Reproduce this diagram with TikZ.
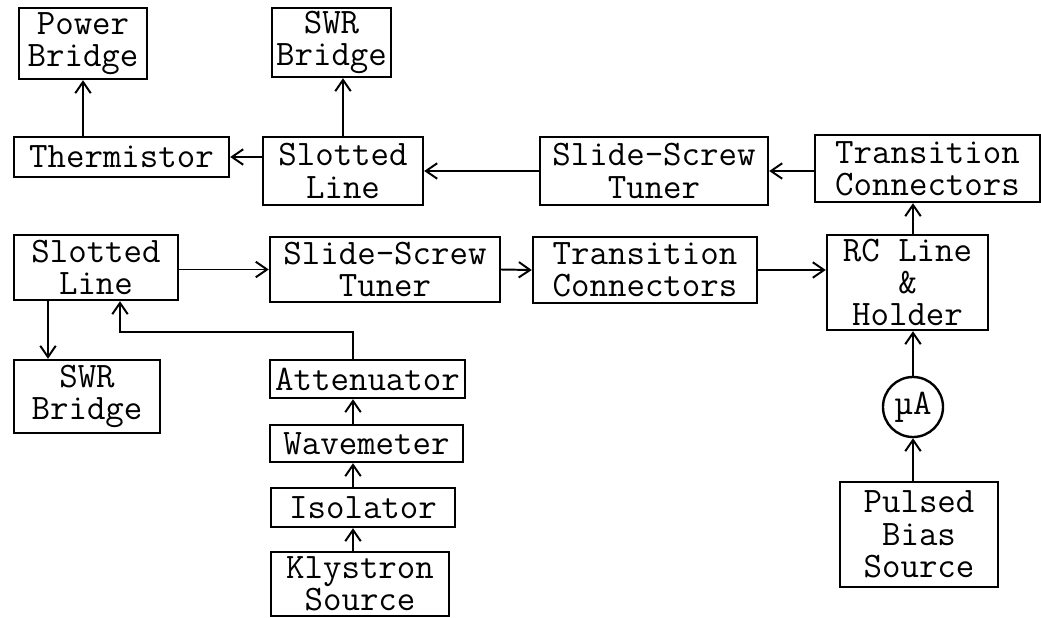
\documentclass[tikz,border=0pt]{standalone}
\usepackage{fontspec}
\usetikzlibrary{arrows.meta}

\begin{document}
\begin{tikzpicture}[x=0.025cm,y=-0.025cm,
  blk/.style={draw,line width=1.7pt,align=center,inner sep=0pt,
    font=\ttfamily\fontsize{25.5}{23}\selectfont},
  link/.style={line width=1.4pt,-{Straight Barb[length=8pt,width=11pt]}}]
  \useasboundingbox (0,0) rectangle (1041,618);
  \clip (0,0) rectangle (1041,618);
  \node[blk,minimum width=3.2cm,minimum height=1.775cm] (pwr) at (83,43.5) {Power\\Bridge};
  \node[blk,minimum width=2.975cm,minimum height=1.725cm] (swrA) at (331.5,42.5) {SWR\\Bridge};
  \node[blk,minimum width=5.375cm,minimum height=1.0cm] (therm) at (121.5,157) {Thermistor};
  \node[blk,minimum width=4.0cm,minimum height=1.7cm] (slotA) at (343,171) {Slotted\\Line};
  \node[blk,minimum width=5.7cm,minimum height=1.7cm] (tunerA) at (654,171) {Slide-Screw\\Tuner};
  \node[blk,minimum width=5.625cm,minimum height=1.675cm] (transA) at (927.5,168.5) {Transition\\Connectors};
  \node[blk,minimum width=4.1cm,minimum height=1.625cm] (slotB) at (96,267.5) {Slotted\\Line};
  \node[blk,minimum width=5.75cm,minimum height=1.625cm] (tunerB) at (385,269.5) {Slide-Screw\\Tuner};
  \node[blk,minimum width=5.6cm,minimum height=1.65cm] (transB) at (645,270) {Transition\\Connectors};
  \node[blk,minimum width=4.025cm,minimum height=2.375cm] (rc) at (907.5,282.5) {RC Line\\\&\\Holder};
  \node[blk,circle,minimum size=1.5cm] (mu) at (913,407) {µA};
  \node[blk,minimum width=3.95cm,minimum height=2.625cm] (pulse) at (919,534.5) {Pulsed\\Bias\\Source};
  \node[blk,minimum width=3.65cm,minimum height=1.825cm] (swrB) at (87,396.5) {SWR\\Bridge};
  \node[blk,minimum width=4.875cm,minimum height=0.95cm] (atten) at (367.5,379) {Attenuator};
  \node[blk,minimum width=4.825cm,minimum height=0.925cm] (wave) at (366.5,443.5) {Wavemeter};
  \node[blk,minimum width=4.6cm,minimum height=0.975cm] (iso) at (363,507.5) {Isolator};
  \node[blk,minimum width=4.45cm,minimum height=1.6cm] (kly) at (360,584) {Klystron\\Source};
  \coordinate (spine) at (353,332);
  \coordinate (jog) at (120,332);
  \coordinate (tap) at (48,300);
  \draw[link] (therm.north -| pwr) -- (pwr.south);
  \draw[link] (slotA.north) -- (slotA.north |- swrA.south);
  \draw[link] (slotA.west |- therm) -- (therm.east);
  \draw[link] (tunerA.west) -- (slotA.east);
  \draw[link] (transA.west |- tunerA) -- (tunerA.east);
  \draw[link] (mu |- rc.north) -- (mu |- transA.south);
  \draw[link] (slotB.east |- tunerB) -- (tunerB.west);
  \draw[link] (tunerB.east) -- (transB.west);
  \draw[link] (transB.east) -- (transB.east -| rc.west);
  \draw[link] (mu.north) -- (mu.north |- rc.south);
  \draw[link] (pulse.north -| mu) -- (mu.south);
  \draw[link] (tap) -- (tap |- swrB.north);
  \foreach \a/\b in {kly/iso, iso/wave, wave/atten}
    \draw[link] (\a.north -| spine) -- (\b.south -| spine);
  \draw[link] (atten.north -| spine) -- (spine) -- (jog) -- (jog |- slotB.south);
\end{tikzpicture}
\end{document}
